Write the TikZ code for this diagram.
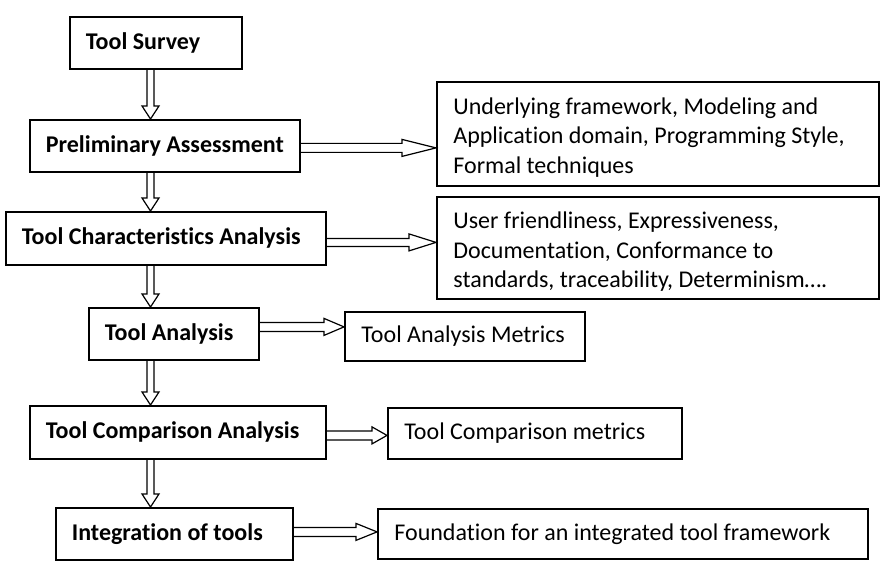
\documentclass[tikz,border=0pt]{standalone}
\usepackage{fontspec}
\setmainfont{Carlito}[Ligatures=NoCommon]
\usetikzlibrary{calc}
\newcommand\arrowlen{13pt}
\newcommand\shafthw{3.5pt}
\newcommand\headhw{8.5pt}

\begin{document}
\begin{tikzpicture}[x=1pt,y=-1pt,
    stage/.style={draw, line width=1.8pt, anchor=north west, inner xsep=16pt, inner ysep=0pt,
      align=flush left, font=\fontsize{24}{29.5}\selectfont\bfseries},
    result/.style={draw, line width=1.8pt, anchor=north west, inner xsep=16.5pt, inner ysep=0pt,
      align=flush left, font=\fontsize{24}{29.5}\selectfont},
    head len/.code={\def\arrowlen{#1}},
    shaft hw/.code={\def\shafthw{#1}},
    hollow/.style={draw, line width=1.2pt, line join=miter, to path={
      ($(\tikztotarget)!\arrowlen!(\tikztostart)$) coordinate (hb)
      ($(\tikztostart)!\shafthw!90:(\tikztotarget)$) -- ($(hb)!\shafthw!90:(\tikztotarget)$)
      -- ($(hb)!\headhw!90:(\tikztotarget)$) -- (\tikztotarget)
      -- ($(hb)!\headhw!-90:(\tikztotarget)$) -- ($(hb)!\shafthw!-90:(\tikztotarget)$)
      -- ($(\tikztostart)!\shafthw!-90:(\tikztotarget)$)}}]
    \useasboundingbox (0,0) rectangle (887,567);

    % Stages on the left
    \node[stage, text width=140pt, minimum height=52pt] (survey) at (69,16) {Tool Survey};
    \node[stage, text width=238pt, minimum height=52pt] (prelim) at (29,119) {Preliminary Assessment};
    \node[stage, text width=288pt, minimum height=53pt] (charact) at (5,211) {Tool Characteristics Analysis};
    \node[stage, text width=138pt, minimum height=52pt] (analysis) at (88,307) {Tool Analysis};
    \node[stage, text width=264pt, minimum height=53pt] (compare) at (29,405) {Tool Comparison Analysis};
    \node[stage, text width=205pt, minimum height=52pt] (integr) at (55,507) {Integration of tools};

    % Outcomes on the right
    \node[result, text width=409pt, text height=24pt, minimum height=104pt] (criteria) at (436,81)
      {Underlying framework, Modeling and\\ Application domain, Programming Style,\\ Formal techniques};
    \node[result, text width=409pt, text height=25pt, minimum height=102pt] (features) at (436,196)
      {User friendliness, Expressiveness,\\ Documentation, Conformance to\\ standards, traceability, Determinism\dots.};
    \node[result, text width=207pt, minimum height=49pt] (metrics) at (344,311) {Tool Analysis Metrics};
    \node[result, text width=261pt, minimum height=51pt] (cmpmetrics) at (387,407) {Tool Comparison metrics};
    \node[result, text width=457pt, minimum height=50pt] (found) at (377,508) {Foundation for an integrated tool framework};

    % Vertical flow
    \coordinate (spine) at (150.5,0);
    \draw[hollow] (survey.south -| spine) to (prelim.north -| spine);
    \draw[hollow] (prelim.south -| spine) to (charact.north -| spine);
    \draw[hollow] (charact.south -| spine) to (analysis.north -| spine);
    \draw[hollow] (analysis.south -| spine) to (compare.north -| spine);
    \draw[hollow] (compare.south -| spine) to (integr.north -| spine);

    % Side arrows
    \draw[hollow, shaft hw=4.5pt, head len=34pt] ([yshift=-2pt]prelim.east) to ([yshift=-2pt]prelim.east -| criteria.west);
    \draw[hollow, shaft hw=4pt, head len=27pt] ([yshift=-4pt]charact.east) to ([yshift=-4pt]charact.east -| features.west);
    \draw[hollow, shaft hw=4.5pt, head len=20pt] ([yshift=7pt]analysis.east) to ([yshift=7pt]analysis.east -| metrics.west);
    \draw[hollow, shaft hw=4.5pt, head len=15pt] ([yshift=-3pt]compare.east) to ([yshift=-3pt]compare.east -| cmpmetrics.west);
    \draw[hollow, shaft hw=4.5pt, head len=21pt] ([yshift=2pt]integr.east) to ([yshift=2pt]integr.east -| found.west);
\end{tikzpicture}
\end{document}
